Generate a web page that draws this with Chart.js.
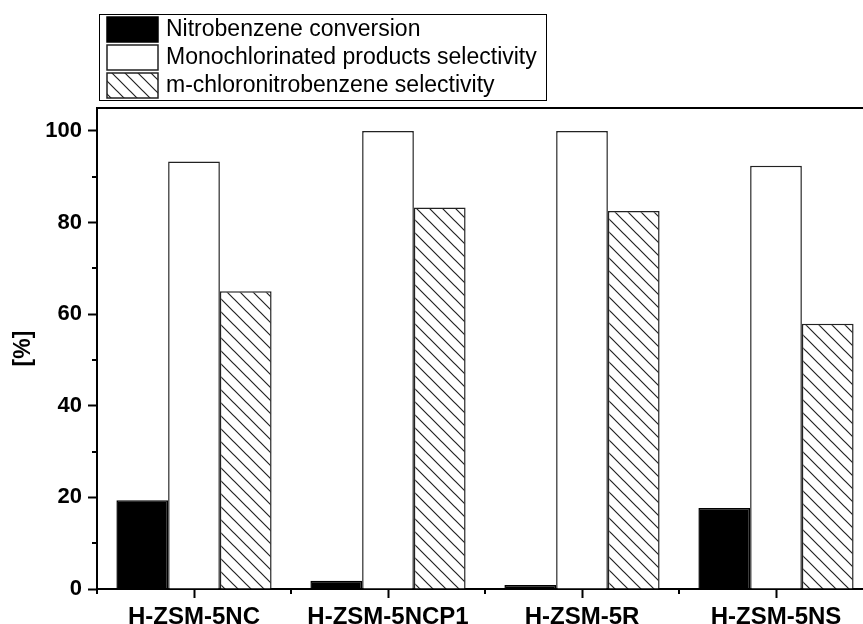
<!DOCTYPE html>
<html>
<head>
<meta charset="utf-8">
<script src="https://cdn.jsdelivr.net/npm/chart.js@4.4.0/dist/chart.umd.min.js"></script>
<style>
  html, body { margin: 0; padding: 0; background: #fff; overflow: hidden; }
  #wrap { width: 880px; height: 624px; }
</style>
</head>
<body>
<div id="wrap"><canvas id="chart" width="880" height="624"></canvas></div>
<script>
// ===== Datos =====
const catalysts = ["H-ZSM-5NC", "H-ZSM-5NCP1", "H-ZSM-5R", "H-ZSM-5NS"];
const nbConversion = [19.4, 1.8, 0.9, 17.7];
const monoSelectivity = [93.3, 100, 100, 92.4];
const mcnbSelectivity = [65.0, 83.3, 82.5, 57.9];
const seriesNames = [
  "Nitrobenzene conversion",
  "Monochlorinated products selectivity",
  "m-chloronitrobenzene selectivity",
];
const yTicks = [0, 20, 40, 60, 80, 100];
const yMinorTicks = [10, 30, 50, 70, 90];

const FONT = '"Liberation Sans", Arial, Helvetica, sans-serif';

// Relleno rayado (\\\)
function makeHatch() {
  const s = 13;
  const t = document.createElement("canvas");
  t.width = s;
  t.height = s;
  const c = t.getContext("2d");
  c.fillStyle = "#fff";
  c.fillRect(0, 0, s, s);
  c.strokeStyle = "#222";
  c.lineWidth = 1.2;
  c.beginPath();
  c.moveTo(-1, -1);
  c.lineTo(s + 1, s + 1);
  c.moveTo(-1, s - 1);
  c.lineTo(1, s + 1);
  c.moveTo(s - 1, -1);
  c.lineTo(s + 1, 1);
  c.stroke();
  return c.createPattern(t, "repeat");
}
const hatch = makeHatch();

const fills = ["#000", "#fff", hatch];
const borders = ["#000", "#222", "#222"];

// Marcas menores, marco superior y leyenda
const framePlugin = {
  id: "frame",
  afterDraw(chart) {
    const { ctx, chartArea } = chart;
    const x = chart.scales.x;
    const y = chart.scales.y;
    ctx.save();
    ctx.strokeStyle = "#000";
    ctx.lineWidth = 2;
    ctx.beginPath();
    ctx.moveTo(chartArea.left - 1, chartArea.top);
    ctx.lineTo(chartArea.right, chartArea.top);
    ctx.moveTo(chartArea.right, chartArea.top);
    ctx.lineTo(chartArea.right, chartArea.bottom);
    // menores eje Y
    yMinorTicks.forEach((v) => {
      const py = Math.round(y.getPixelForValue(v));
      ctx.moveTo(chartArea.left, py);
      ctx.lineTo(chartArea.left - 5, py);
    });
    // menores eje X (límites de categoría)
    for (let i = 0; i <= catalysts.length; i++) {
      const px = Math.round(x.getPixelForValue(i - 0.5));
      ctx.moveTo(px, chartArea.bottom);
      ctx.lineTo(px, chartArea.bottom + 5);
    }
    ctx.stroke();

    // leyenda
    ctx.lineWidth = 1;
    ctx.strokeStyle = "#000";
    ctx.strokeRect(99.5, 14.5, 447, 86);
    ctx.font = "23px " + FONT;
    ctx.textBaseline = "middle";
    ctx.textAlign = "left";
    seriesNames.forEach((name, i) => {
      const sy = 17 + i * 28;
      ctx.fillStyle = fills[i];
      ctx.fillRect(107, sy, 51, 25);
      ctx.strokeStyle = borders[i];
      ctx.lineWidth = 1.5;
      ctx.strokeRect(107, sy, 51, 25);
      ctx.fillStyle = "#000";
      ctx.fillText(name, 166, sy + 13);
    });
    ctx.restore();
  },
};

new Chart(document.getElementById("chart"), {
  type: "bar",
  data: {
    labels: catalysts,
    datasets: [nbConversion, monoSelectivity, mcnbSelectivity].map((d, i) => ({
      label: seriesNames[i],
      data: d,
      backgroundColor: fills[i],
      borderColor: borders[i],
      borderWidth: 1.5,
      categoryPercentage: 0.8,
      barPercentage: 1.0,
    })),
  },
  options: {
    responsive: false,
    animation: false,
    layout: { padding: { top: 108, right: 7, left: 0, bottom: 0 } },
    plugins: {
      legend: { display: false },
      tooltip: { enabled: false },
    },
    scales: {
      x: {
        grid: {
          display: true,
          drawOnChartArea: false,
          drawTicks: true,
          tickLength: 9,
          tickWidth: 2,
          tickColor: "#000",
          offset: false,
        },
        border: { display: true, color: "#000", width: 2 },
        ticks: {
          font: { family: FONT, size: 24, weight: "bold" },
          color: "#000",
          padding: 5,
          maxRotation: 0,
          autoSkip: false,
        },
        afterFit: (s) => {
          s.height = 35;
        },
      },
      y: {
        min: 0,
        max: 105,
        afterBuildTicks: (s) => {
          s.ticks = yTicks.map((v) => ({ value: v }));
        },
        grid: {
          display: true,
          drawOnChartArea: false,
          tickLength: 9,
          tickWidth: 2,
          tickColor: "#000",
        },
        border: { display: true, color: "#000", width: 2 },
        ticks: {
          font: { family: FONT, size: 22, weight: "bold" },
          color: "#000",
          padding: 6,
        },
        title: {
          display: true,
          text: "[%]",
          font: { family: FONT, size: 23, weight: "bold" },
          color: "#000",
          padding: { top: 10, bottom: 0 },
        },
        afterFit: (s) => {
          s.width = 97;
        },
      },
    },
  },
  plugins: [framePlugin],
});
</script>
</body>
</html>
